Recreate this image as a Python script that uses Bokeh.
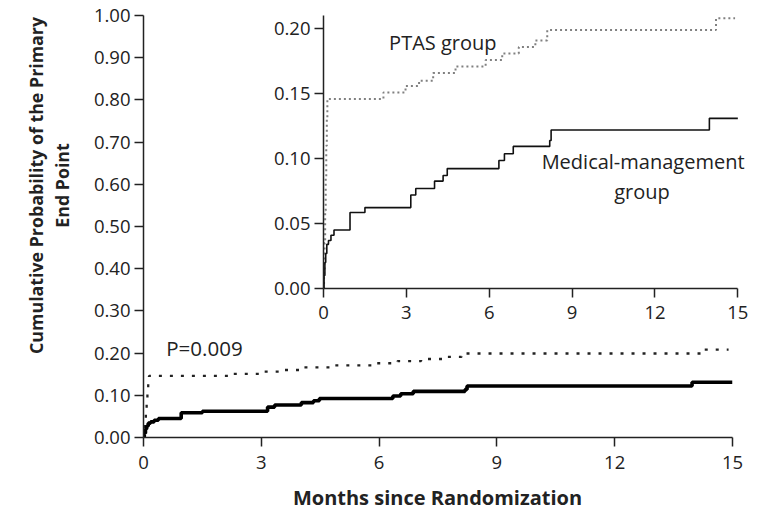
import math
from bokeh.plotting import figure
from bokeh.models import Range1d, FixedTicker, Label, NumeralTickFormatter
from bokeh.embed import file_html
from bokeh.resources import INLINE

# ---------------- data ----------------
month_ticks = [0, 3, 6, 9, 12, 15]
main_prob_ticks = [0.0, 0.1, 0.2, 0.3, 0.4, 0.5, 0.6, 0.7, 0.8, 0.9, 1.0]
inset_prob_ticks = [0.0, 0.05, 0.10, 0.15, 0.20]

# Medical-management group (solid)
med_months = [0, 0.02, 0.05, 0.08, 0.12, 0.18, 0.27, 0.38, 0.96, 1.50, 3.16, 3.34,
              4.02, 4.33, 4.48, 6.35, 6.55, 6.87, 8.19, 8.24, 13.97, 15.0]
med_prob = [0, 0.010, 0.020, 0.027, 0.034, 0.037, 0.041, 0.045, 0.0585, 0.0623, 0.072, 0.077,
            0.0827, 0.087, 0.0923, 0.0985, 0.1038, 0.1094, 0.114, 0.122, 0.131, 0.131]

# PTAS group (dotted)
ptas_months = [0, 0.02, 0.04, 0.06, 0.08, 0.10, 0.12, 0.14, 2.17, 2.97, 3.46, 3.97,
               4.78, 5.87, 6.47, 7.07, 7.67, 8.10, 14.21, 14.9]
ptas_prob = [0, 0.015, 0.035, 0.060, 0.085, 0.110, 0.130, 0.146, 0.151, 0.156, 0.160, 0.166,
             0.171, 0.176, 0.181, 0.186, 0.191, 0.199, 0.208, 0.208]

y_title_lines = ["Cumulative Probability of the Primary", "End Point"]
x_title = "Months since Randomization"

FONT = "Open Sans"
TXT = "#222222"


def style_axes(p, x_standoff):
    p.outline_line_color = None
    p.grid.visible = False
    for ax in (p.xaxis, p.yaxis):
        ax.axis_line_color = "#222222"
        ax.axis_line_width = 1.5
        ax.major_tick_line_color = "#222222"
        ax.major_tick_line_width = 1.5
        ax.major_tick_out = 9
        ax.major_tick_in = 0
        ax.minor_tick_line_color = None
        ax.major_label_text_font = FONT
        ax.major_label_text_font_size = "18.5px"
        ax.major_label_text_color = TXT
        ax.major_label_standoff = 4
    p.xaxis.major_label_standoff = x_standoff
    p.xaxis.ticker = FixedTicker(ticks=month_ticks)
    p.xaxis.bounds = (0, 15)
    p.yaxis.formatter = NumeralTickFormatter(format="0.00")


# ---------------- main chart ----------------
p = figure(width=752, height=513, x_range=Range1d(0, 15), y_range=Range1d(0, 1),
           output_backend="svg", toolbar_location=None,
           min_border_left=143, min_border_right=20, min_border_top=15, min_border_bottom=76)
style_axes(p, 9)
p.yaxis.ticker = FixedTicker(ticks=main_prob_ticks)

p.step(ptas_months, ptas_prob, mode="after", line_color="#222222",
       line_width=2.3, line_dash="3 8")
p.step(med_months, med_prob, mode="after", line_color="black", line_width=3.6)
p.add_layout(Label(x=0.58, y=0.213, text="P=0.009", text_font=FONT,
                   text_font_size="20.5px", text_color=TXT, text_baseline="middle"))

# ---------------- inset ----------------
q = figure(width=498, height=325, x_range=Range1d(0, 15.35), y_range=Range1d(0, 0.2102),
           output_backend="svg", toolbar_location=None,
           min_border_left=61, min_border_right=13, min_border_top=10, min_border_bottom=42,
           background_fill_alpha=0, border_fill_alpha=0,
           styles={"position": "absolute", "left": "262px", "top": "5px"})
style_axes(q, 8)
q.yaxis.ticker = FixedTicker(ticks=inset_prob_ticks)

q.step(ptas_months, ptas_prob, mode="after", line_color="#808080",
       line_width=2, line_dash="2 3")
q.step(med_months, med_prob, mode="after", line_color="#111111", line_width=1.6)

q.add_layout(Label(x=4.32, y=0.1895, text="PTAS group", text_font=FONT,
                   text_font_size="20px", text_color=TXT,
                   text_align="center", text_baseline="middle"))
q.add_layout(Label(x=11.57, y=0.098, text="Medical-management", text_font=FONT,
                   text_font_size="20px", text_color=TXT,
                   text_align="center", text_baseline="middle"))
q.add_layout(Label(x=11.53, y=0.075, text="group", text_font=FONT,
                   text_font_size="20px", text_color=TXT,
                   text_align="center", text_baseline="middle"))

# ---------------- axis titles (transparent overlay, page-pixel units) ----------------
t = figure(width=760, height=513, x_range=Range1d(0, 760), y_range=Range1d(513, 0),
           output_backend="svg", toolbar_location=None,
           x_axis_type=None, y_axis_type=None,
           min_border_left=0, min_border_right=0, min_border_top=0, min_border_bottom=0,
           background_fill_alpha=0, border_fill_alpha=0,
           styles={"position": "absolute", "left": "0px", "top": "0px"})
t.outline_line_color = None
t.grid.visible = False
for txt, xpos in zip(y_title_lines, (35, 61)):
    t.add_layout(Label(x=xpos, y=185, text=txt, angle=math.pi / 2,
                       text_font=FONT, text_font_style="bold", text_font_size="17.8px",
                       text_color=TXT, text_align="center", text_baseline="middle"))
t.add_layout(Label(x=437, y=497, text=x_title, text_font=FONT, text_font_style="bold",
                   text_font_size="20px", text_color=TXT,
                   text_align="center", text_baseline="middle"))

open("out.html", "w").write(file_html([p, q, t], INLINE))
